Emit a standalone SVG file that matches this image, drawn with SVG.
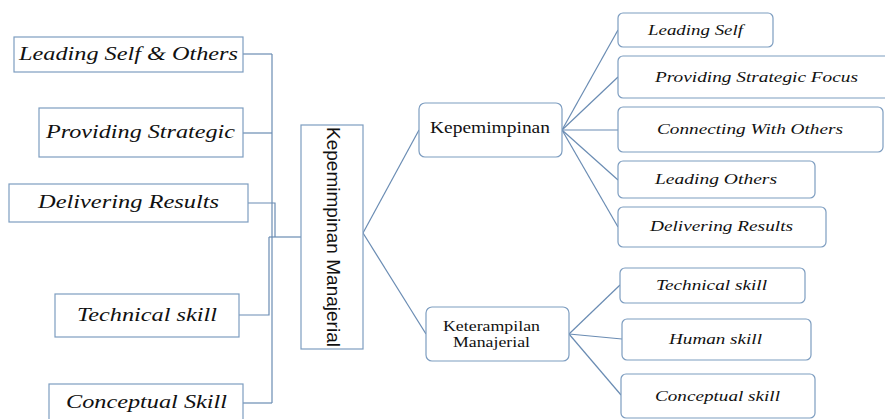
<svg xmlns="http://www.w3.org/2000/svg" width="885" height="419" viewBox="0 0 885 419">
<style>
.bx{fill:#fff;stroke:#7d9dc0;stroke-width:1.2}
.ln{fill:none;stroke:#6a8cb3;stroke-width:1.2}
.it{font-family:"Liberation Serif","Times New Roman",Times,serif;font-style:italic;fill:#111}
.lt{font-size:19.5px}
.rt{font-size:15px}
.md{font-family:"Liberation Serif","Times New Roman",Times,serif;font-size:16.5px;fill:#111}
.mk{font-family:"Liberation Serif","Times New Roman",Times,serif;font-size:14.5px;fill:#111}
.ct{font-family:"Liberation Sans",Arial,sans-serif;font-size:19px;fill:#111}
</style>
<rect width="885" height="419" fill="#fff"/>
<g id="connectors">
<polyline class="ln" points="243,54 272,54"/>
<polyline class="ln" points="243,133 272,133"/>
<polyline class="ln" points="248,203 275,203 275,237"/>
<polyline class="ln" points="239,315 269,315 269,237"/>
<polyline class="ln" points="243,403 272,403"/>
<line class="ln" x1="272" y1="54" x2="272" y2="403"/>
<line class="ln" x1="269" y1="237" x2="301" y2="237"/>
<line class="ln" x1="363" y1="233" x2="419" y2="130"/>
<line class="ln" x1="363" y1="233" x2="426" y2="334"/>
<line class="ln" x1="562" y1="130" x2="618" y2="30"/>
<line class="ln" x1="562" y1="130" x2="618" y2="77"/>
<line class="ln" x1="562" y1="130" x2="618" y2="130"/>
<line class="ln" x1="562" y1="130" x2="618" y2="180"/>
<line class="ln" x1="562" y1="130" x2="618" y2="227"/>
<line class="ln" x1="569" y1="334" x2="620" y2="285"/>
<line class="ln" x1="569" y1="334" x2="622" y2="339"/>
<line class="ln" x1="569" y1="334" x2="621" y2="395"/>
</g>
<g id="l-leading-self-others"><rect class="bx" x="14" y="37" width="229" height="35"/><text class="it lt" x="19" y="60" textLength="219" lengthAdjust="spacingAndGlyphs">Leading Self &amp; Others</text></g>
<g id="l-providing-strategic"><rect class="bx" x="39" y="108" width="204" height="49"/><text class="it lt" x="46" y="138" textLength="189" lengthAdjust="spacingAndGlyphs">Providing Strategic</text></g>
<g id="l-delivering-results"><rect class="bx" x="9" y="184" width="239" height="38"/><text class="it lt" x="38" y="208" textLength="181" lengthAdjust="spacingAndGlyphs">Delivering Results</text></g>
<g id="l-technical-skill"><rect class="bx" x="55" y="294" width="184" height="43"/><text class="it lt" x="77" y="321" textLength="140" lengthAdjust="spacingAndGlyphs">Technical skill</text></g>
<g id="l-conceptual-skill"><rect class="bx" x="49" y="384" width="194" height="42"/><text class="it lt" x="66" y="408" textLength="161" lengthAdjust="spacingAndGlyphs">Conceptual Skill</text></g>
<g id="center"><rect class="bx" x="301" y="125" width="62" height="224"/><text class="ct" transform="translate(327,127) rotate(90)" x="0" y="0" textLength="220" lengthAdjust="spacingAndGlyphs">Kepemimpinan Manajerial</text></g>
<g id="kepemimpinan"><rect class="bx" x="419" y="103" width="143" height="54" rx="6"/><text class="md" x="430" y="133" textLength="120" lengthAdjust="spacingAndGlyphs">Kepemimpinan</text></g>
<g id="keterampilan"><rect class="bx" x="426" y="307" width="143" height="54" rx="6"/><text class="mk" x="443" y="330.5" textLength="97" lengthAdjust="spacingAndGlyphs">Keterampilan</text><text class="mk" x="453" y="347" textLength="77" lengthAdjust="spacingAndGlyphs">Manajerial</text></g>
<g id="r-leading-self"><rect class="bx" x="618" y="13" width="155" height="34" rx="5"/><text class="it rt" x="648" y="35" textLength="95" lengthAdjust="spacingAndGlyphs">Leading Self</text></g>
<g id="r-providing-strategic-focus"><rect class="bx" x="618" y="56" width="272" height="42" rx="5"/><text class="it rt" x="655" y="82" textLength="203" lengthAdjust="spacingAndGlyphs">Providing Strategic Focus</text></g>
<g id="r-connecting-with-others"><rect class="bx" x="618" y="107" width="265" height="45" rx="5"/><text class="it rt" x="657" y="134" textLength="186" lengthAdjust="spacingAndGlyphs">Connecting With Others</text></g>
<g id="r-leading-others"><rect class="bx" x="618" y="161" width="197" height="37" rx="5"/><text class="it rt" x="655" y="184" textLength="122" lengthAdjust="spacingAndGlyphs">Leading Others</text></g>
<g id="r-delivering-results"><rect class="bx" x="618" y="207" width="208" height="40" rx="5"/><text class="it rt" x="650" y="231" textLength="143" lengthAdjust="spacingAndGlyphs">Delivering Results</text></g>
<g id="r-technical-skill"><rect class="bx" x="620" y="268" width="185" height="35" rx="5"/><text class="it rt" x="656" y="290" textLength="111" lengthAdjust="spacingAndGlyphs">Technical skill</text></g>
<g id="r-human-skill"><rect class="bx" x="622" y="319" width="189" height="41" rx="5"/><text class="it rt" x="669" y="344" textLength="93" lengthAdjust="spacingAndGlyphs">Human skill</text></g>
<g id="r-conceptual-skill"><rect class="bx" x="621" y="374" width="194" height="44" rx="5"/><text class="it rt" x="655" y="401" textLength="125" lengthAdjust="spacingAndGlyphs">Conceptual skill</text></g>
</svg>
